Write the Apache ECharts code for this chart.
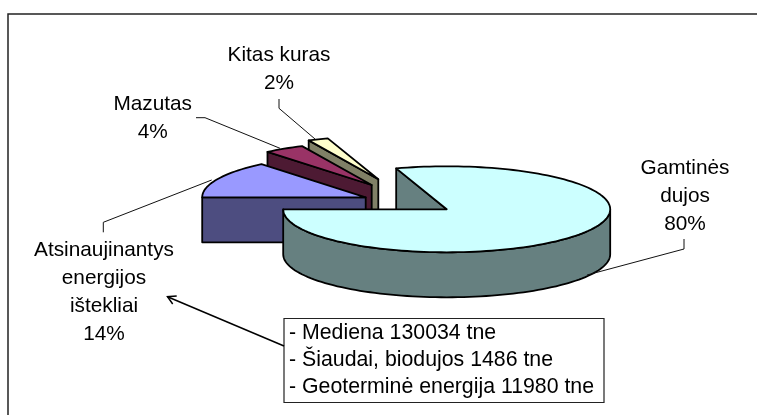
<!DOCTYPE html>
<html>
<head>
<meta charset="utf-8">
<script src="https://cdn.jsdelivr.net/npm/echarts@6/dist/echarts.min.js"></script>
<style>
html, body { margin: 0; padding: 0; background: #fff; }
#chart { width: 757px; height: 415px; }
</style>
</head>
<body>
<div id="chart"></div>
<script>
var categories = ['Gamtinės\ndujos', 'Atsinaujinantys\nenergijos\ništekliai', 'Mazutas', 'Kitas kuras'];
var shares = [80, 14, 4, 2];
var noteLines = ['- Mediena 130034 tne', '- Šiaudai, biodujos 1486 tne', '- Geoterminė energija 11980 tne'];

// kiekvieno griežinio išdėstymas (tas pats eiliškumas kaip categories)
var topColors = ['#ccffff', '#9999ff', '#993366', '#ffffcc'];
var sideColors = ['#668080', '#4d4d80', '#4d1a33', '#808066'];
var apex = [[446.7, 209.3], [365.7, 197.3], [371.7, 185], [378.3, 179.3]];
var labelAt = [[685, 196], [104, 292.5], [152.7, 118], [279, 69]];
var leaders = [
	[[684, 239], [684, 249], [587, 275]],
	[[103.3, 232.3], [103.3, 222.3], [211.7, 180]],
	[[196, 117.7], [205, 117.7], [280, 148.3]],
	[[279, 99], [279, 108.3], [315, 139]]
];
var rx = 163.5, ry = 43, depth = 45, firstAngle = 108;
var labelFont = '20.8px "Liberation Sans", Arial, sans-serif';
var noteFont = '21.3px "Liberation Sans", Arial, sans-serif';

var total = shares.reduce(function (a, b) { return a + b; }, 0);

function pt(i, deg, dy) {
	var r = deg * Math.PI / 180;
	return [apex[i][0] + rx * Math.cos(r), apex[i][1] - ry * Math.sin(r) + (dy || 0)];
}

function arc(i, from, to, dy) {
	var n = Math.max(2, Math.ceil(Math.abs(to - from) / 2));
	var out = [];
	for (var k = 0; k <= n; k++) {
		out.push(pt(i, from + (to - from) * k / n, dy));
	}
	return out;
}

function face(points, fill) {
	return {
		type: 'polygon',
		shape: { points: points },
		style: { fill: fill, stroke: '#000', lineWidth: 1.8, lineJoin: 'round' }
	};
}

function renderSlice(params, api) {
	var i = api.value(1);
	var start = firstAngle;
	for (var k = 0; k < i; k++) {
		start -= shares[k] / total * 360;
	}
	var end = start - api.value(0) / total * 360;
	var children = [];
	var a = apex[i];
	// pjūvio sienelė, jei ji atsukta į žiūrovą
	var far = pt(i, start);
	children.push(face([far, a, [a[0], a[1] + depth], [far[0], far[1] + depth]], sideColors[i]));
	// išorinė sienelė tik apatinėje elipsės pusėje
	var lo = Math.max(end, -180), hi = Math.min(start, 0);
	if (hi > lo) {
		children.push(face(arc(i, lo, hi).concat(arc(i, hi, lo, depth)), sideColors[i]));
	}
	children.push(face([a].concat(arc(i, start, end)), topColors[i]));
	children.push({
		type: 'polyline',
		shape: { points: leaders[i] },
		style: { fill: null, stroke: '#111', lineWidth: 1 }
	});
	children.push({
		type: 'text',
		style: {
			text: categories[i] + '\n' + api.value(0) + '%',
			x: labelAt[i][0],
			y: labelAt[i][1],
			align: 'center',
			verticalAlign: 'middle',
			font: labelFont,
			lineHeight: 28,
			fill: '#000'
		}
	});
	return { type: 'group', children: children };
}

var noteGraphics = noteLines.map(function (line, i) {
	return {
		type: 'text',
		style: {
			text: line,
			x: 289,
			y: 333 + i * 27,
			verticalAlign: 'middle',
			font: noteFont,
			fill: '#000'
		}
	};
});

var myChart = echarts.init(document.getElementById('chart'), null, { renderer: 'canvas' });

var drawOrder = shares.map(function (v, i) { return [v, i]; }).reverse();

myChart.setOption({
	animation: false,
	backgroundColor: '#fff',
	tooltip: { show: false },
	graphic: [
		{ type: 'polyline', shape: { points: [[8, 415], [8, 14], [757, 14]] }, style: { fill: null, stroke: '#222', lineWidth: 1.5 } },
		{ type: 'rect', shape: { x: 284, y: 318.5, width: 320, height: 84 }, style: { fill: '#fff', stroke: '#222', lineWidth: 1.2 } },
		{ type: 'line', shape: { x1: 284, y1: 346, x2: 167.5, y2: 296.7 }, style: { stroke: '#000', lineWidth: 1.5 } },
		{ type: 'polyline', shape: { points: [[176.7, 296], [167.5, 296.7], [172.7, 304]] }, style: { fill: null, stroke: '#000', lineWidth: 1.5 } }
	].concat(noteGraphics),
	series: [{
		type: 'custom',
		coordinateSystem: 'none',
		silent: true,
		renderItem: renderSlice,
		data: drawOrder
	}]
});

window.onresize = function () {
	myChart.resize();
};
</script>
</body>
</html>
